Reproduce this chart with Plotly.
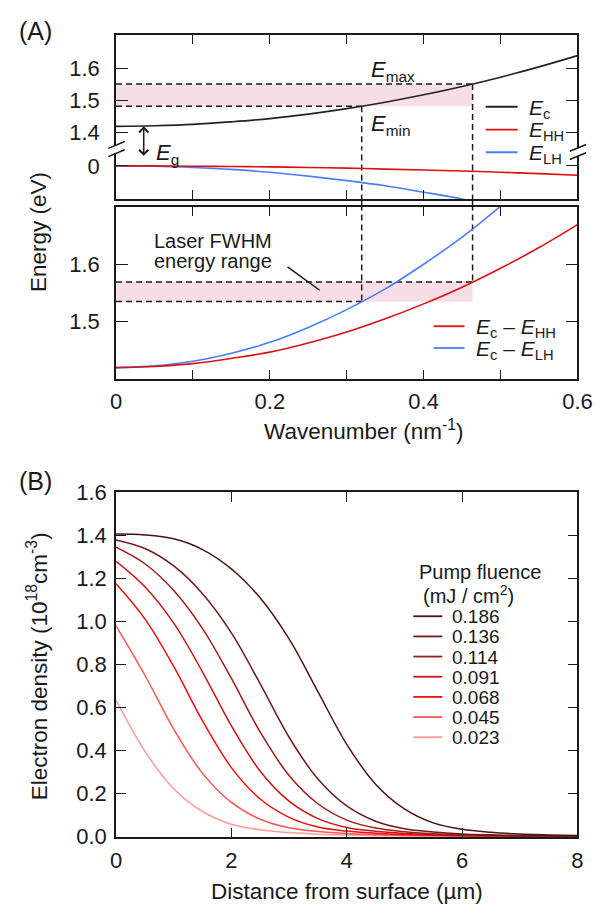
import numpy as np
import plotly.graph_objects as go

# ---------------- (A) band dispersion ----------------
k = [0.0, 0.05, 0.10, 0.15, 0.20, 0.25, 0.30, 0.35, 0.40, 0.45, 0.50, 0.55, 0.60]
E_c = [1.420, 1.422, 1.426, 1.434, 1.444, 1.458, 1.475, 1.495, 1.518, 1.544, 1.573, 1.605, 1.640]
E_hh = [0.000, 0.000, -0.001, -0.002, -0.003, -0.005, -0.007, -0.010, -0.013, -0.016, -0.020, -0.024, -0.029]
E_lh = [0.000, -0.001, -0.005, -0.011, -0.020, -0.032, -0.046, -0.062, -0.082, -0.103, -0.128, -0.154, -0.184]
laser_fwhm = [1.535, 1.569]          # eV, laser FWHM energy range

k_major = [0.0, 0.2, 0.4, 0.6]
k_ticktext = ["0", "0.2", "0.4", "0.6"]

# ---------------- (B) electron density profiles ----------------
depth = [0.0, 0.5, 1.0, 1.5, 2.0, 2.5, 3.0, 3.5, 4.0, 4.5, 5.0, 5.5, 6.0, 6.5, 7.0, 7.5, 8.0]
fluence = ["0.186", "0.136", "0.114", "0.091", "0.068", "0.045", "0.023"]
n_186 = [1.405, 1.401, 1.383, 1.333, 1.243, 1.108, 0.918, 0.673, 0.428, 0.243, 0.128, 0.063, 0.033,
         0.019, 0.011, 0.007, 0.004]
n_136 = [1.378, 1.338, 1.257, 1.128, 0.946, 0.709, 0.461, 0.267, 0.142, 0.071, 0.036, 0.021, 0.012,
         0.0076, 0.0044, 0.0031, 0.0021]
n_114 = [1.344, 1.267, 1.143, 0.966, 0.734, 0.485, 0.283, 0.152, 0.076, 0.039, 0.022, 0.013, 0.008,
         0.0047, 0.0032, 0.0022, 0.0016]
n_091 = [1.278, 1.160, 0.991, 0.764, 0.514, 0.303, 0.164, 0.083, 0.042, 0.024, 0.014, 0.0084, 0.0051,
         0.0034, 0.0024, 0.0017, 0.0012]
n_068 = [1.174, 1.011, 0.790, 0.537, 0.320, 0.174, 0.089, 0.044, 0.025, 0.015, 0.0088, 0.0053, 0.0035,
         0.0025, 0.0017, 0.0012, 0.0009]
n_045 = [0.978, 0.749, 0.499, 0.293, 0.158, 0.080, 0.040, 0.023, 0.0134, 0.0082, 0.0049, 0.0033, 0.0023,
         0.0016, 0.0012, 0.0009, 0.0007]
n_023 = [0.633, 0.396, 0.222, 0.116, 0.057, 0.031, 0.018, 0.0104, 0.0065, 0.0038, 0.0028, 0.0019, 0.0014,
         0.0010, 0.0008, 0.0006, 0.0005]
profiles = [n_186, n_136, n_114, n_091, n_068, n_045, n_023]
profile_colors = ["#4a1414", "#721a1a", "#a01b1b", "#cc1414", "#f20d0d", "#ff5555", "#ff9c9c"]
density_ticks = [0.0, 0.2, 0.4, 0.6, 0.8, 1.0, 1.2, 1.4, 1.6]
depth_ticks = [0, 2, 4, 6, 8]

# ---------------- derived transition quantities ----------------
trans_hh = np.array(E_c) - np.array(E_hh)
trans_lh = np.array(E_c) - np.array(E_lh)
k_min = float(np.interp(laser_fwhm[0], trans_lh, k))
k_max = float(np.interp(laser_fwhm[1], trans_hh, k))
E_min = float(np.interp(k_min, k, E_c))
E_max = float(np.interp(k_max, k, E_c))

# ---------------- page geometry helpers ----------------
W, H = 605, 917
def px(x):
    return x / W
def py(y):
    return 1 - y / H

FONT = "Liberation Sans, Arial, Helvetica, sans-serif"
INK = "#1a1a1a"
C_BLACK = "#222222"
C_HH = "#dd1111"
C_LH = "#4a7dff"
PINK = "#f7dde5"
DASH = "6px,4px"

fig = go.Figure()

# dashed guide lines (drawn first so curves sit on top)
guide = dict(color=INK, width=1.5, dash=DASH)
fig.add_trace(go.Scatter(x=[0, k_max], y=[E_max, E_max], mode="lines", line=guide, xaxis="x", yaxis="y"))
fig.add_trace(go.Scatter(x=[0, k_min], y=[E_min, E_min], mode="lines", line=guide, xaxis="x", yaxis="y"))
fig.add_trace(go.Scatter(x=[k_min, k_min], y=[E_min, 1.0], mode="lines", line=guide, xaxis="x", yaxis="y"))
fig.add_trace(go.Scatter(x=[k_max, k_max], y=[E_max, 1.0], mode="lines", line=guide, xaxis="x", yaxis="y"))
for kk in (k_min, k_max):
    fig.add_trace(go.Scatter(x=[kk, kk], y=[1, -1], mode="lines", line=guide, xaxis="x2", yaxis="y2"))
fig.add_trace(go.Scatter(x=[0, k_max], y=[laser_fwhm[1]] * 2, mode="lines", line=guide, xaxis="x3", yaxis="y3"))
fig.add_trace(go.Scatter(x=[0, k_min], y=[laser_fwhm[0]] * 2, mode="lines", line=guide, xaxis="x3", yaxis="y3"))
fig.add_trace(go.Scatter(x=[k_min, k_min], y=[2.0, laser_fwhm[0]], mode="lines", line=guide, xaxis="x3", yaxis="y3"))
fig.add_trace(go.Scatter(x=[k_max, k_max], y=[2.0, laser_fwhm[1]], mode="lines", line=guide, xaxis="x3", yaxis="y3"))

# band curves
fig.add_trace(go.Scatter(x=k, y=E_c, mode="lines", line=dict(color=C_BLACK, width=1.6, shape="spline"),
                         xaxis="x", yaxis="y"))
fig.add_trace(go.Scatter(x=k, y=E_lh, mode="lines", line=dict(color=C_LH, width=1.6, shape="spline"),
                         xaxis="x2", yaxis="y2"))
fig.add_trace(go.Scatter(x=k, y=E_hh, mode="lines", line=dict(color=C_HH, width=1.6, shape="spline"),
                         xaxis="x2", yaxis="y2"))
fig.add_trace(go.Scatter(x=k, y=trans_lh, mode="lines", line=dict(color=C_LH, width=1.6, shape="spline"),
                         xaxis="x3", yaxis="y3"))
fig.add_trace(go.Scatter(x=k, y=trans_hh, mode="lines", line=dict(color=C_HH, width=1.6, shape="spline"),
                         xaxis="x3", yaxis="y3"))

# density profiles, lowest fluence first
for prof, col in reversed(list(zip(profiles, profile_colors))):
    fig.add_trace(go.Scatter(x=depth, y=prof, mode="lines",
                             line=dict(color=col, width=1.5, shape="spline"),
                             xaxis="x4", yaxis="y4"))

# ---------------- axes ----------------
tickfont = dict(family=FONT, size=22, color=INK)
base = dict(showline=True, linecolor=INK, linewidth=1.6, ticks="inside", tickcolor=INK,
            tickwidth=1.4, showgrid=False, zeroline=False, tickfont=tickfont)
kminor = dict(dtick=0.1, tick0=0, ticks="inside", ticklen=9, tickcolor=INK, tickwidth=1.4, showgrid=False)
xdom = [px(114), px(592)]

layout_axes = dict(
    xaxis=dict(base, domain=xdom, anchor="y", range=[0, 0.6], side="top", tickvals=k_major,
               showticklabels=False, ticklen=9, mirror=False, minor=kminor),
    xaxis2=dict(base, domain=xdom, anchor="y2", range=[0, 0.6], side="bottom", tickvals=k_major,
                showticklabels=False, ticklen=9, mirror=False, minor=kminor),
    xaxis3=dict(base, domain=xdom, anchor="y3", range=[0, 0.6], tickvals=k_major, ticktext=k_ticktext,
                ticklen=9, mirror="ticks", ticklabelstandoff=2, minor=kminor),
    xaxis4=dict(base, domain=xdom, anchor="y4", range=[0, 8], tickvals=depth_ticks,
                ticklen=10, mirror="ticks", ticklabelstandoff=2),
    yaxis=dict(base, domain=[py(141), py(24)], anchor="x", range=[1.3485, 1.703],
               tickvals=[1.4, 1.5, 1.6], ticktext=["1.4", "1.5", "1.6"], ticklen=12, mirror="ticks",
               ticklabelstandoff=10),
    yaxis2=dict(base, domain=[py(192), py(141)], anchor="x2", range=[-0.103, 0.0515],
                tickvals=[0], ticktext=["0"], ticklen=12, mirror="ticks", ticklabelstandoff=10),
    yaxis3=dict(base, domain=[py(377), py(200)], anchor="x3", range=[1.40, 1.70],
                tickvals=[1.5, 1.6], ticktext=["1.5", "1.6"], ticklen=12, mirror="ticks",
                ticklabelstandoff=10),
    yaxis4=dict(base, domain=[py(847.5), py(493)], anchor="x4", range=[-0.004, 1.6],
                tickvals=density_ticks, tickformat=".1f", ticklen=10, mirror="ticks",
                ticklabelstandoff=3),
)

shapes = [
    dict(type="rect", xref="x", yref="y", x0=0, x1=k_max, y0=E_min, y1=E_max,
         fillcolor=PINK, line=dict(width=0), layer="below"),
    dict(type="rect", xref="x3", yref="y3", x0=0, x1=k_max, y0=laser_fwhm[0], y1=laser_fwhm[1],
         fillcolor=PINK, line=dict(width=0), layer="below"),
    # pointer from the laser label to the band
    dict(type="line", xref="x3", yref="y3", x0=0.223, y0=1.5954, x1=0.2648, y1=1.5547,
         line=dict(color=INK, width=1.5)),
]
# dashed verticals across the gap between the two (A) frames
for kk in (k_min, k_max):
    shapes.append(dict(type="line", xref="x3", yref="paper", x0=kk, x1=kk, y0=py(200), y1=py(192),
                       line=dict(color=INK, width=1.5, dash=DASH)))
# axis break marks on the upper (A) frame
for xa, dy in ((114, 0), (592, 3)):
    shapes.append(dict(type="line", xref="paper", yref="paper", x0=px(xa), x1=px(xa),
                       y0=py(137 + dy), y1=py(145 + dy), line=dict(color="white", width=4)))
    for off in (0, 8.5):
        shapes.append(dict(type="line", xref="paper", yref="paper",
                           x0=px(xa - 8), y0=py(140 + dy + off), x1=px(xa + 9), y1=py(133 + dy + off),
                           line=dict(color=INK, width=1.5)))

annotations = []
def text(x, y, s, size=21, xanchor="center", yanchor="middle", angle=0):
    annotations.append(dict(xref="paper", yref="paper", x=px(x), y=py(y), text=s, showarrow=False,
                            xanchor=xanchor, yanchor=yanchor, textangle=angle,
                            font=dict(family=FONT, size=size, color=INK)))

def legend_row(x0, x1, y, color, label, tx, size=20, dy=2):
    shapes.append(dict(type="line", xref="paper", yref="paper", x0=px(x0), x1=px(x1), y0=py(y), y1=py(y),
                       line=dict(color=color, width=1.8)))
    text(tx, y + dy, label, size=size, xanchor="left")

text(31, 19, "(A)", size=25)
text(31, 482, "(B)", size=25)
text(33, 226, "Energy (eV)", size=22.5, angle=-90)
text(370, 429, "Wavenumber (nm<sup>-1</sup>)", size=22.5)
text(33, 672, "Electron density (10<sup>18</sup>cm<sup>-3</sup>)", size=22.5, angle=-90)
text(353, 903, "Distance from surface (µm)", size=22.5)

text(376, 61, "<i>E</i><sub>max</sub>", size=22, xanchor="left")
text(376, 116, "<i>E</i><sub>min</sub>", size=22, xanchor="left")
text(153, 146, "<i>E</i><sub>g</sub>", size=22, xanchor="left")
text(214, 235.5, "Laser FWHM", size=20)
text(214, 255.5, "energy range", size=20)

# legends
legend_row(497, 530, 97.3, C_BLACK, "<i>E</i><sub>c</sub>", 540, size=21)
legend_row(497, 530, 120.7, C_HH, "<i>E</i><sub>HH</sub>", 540, size=21)
legend_row(497, 530, 144, C_LH, "<i>E</i><sub>LH</sub>", 540, size=21)
legend_row(443, 475, 322.7, C_HH, "<i>E</i><sub>c</sub> – <i>E</i><sub>HH</sub>", 485, size=21)
legend_row(443, 475, 345, C_LH, "<i>E</i><sub>c</sub> – <i>E</i><sub>LH</sub>", 485, size=21)

text(426, 575, "Pump fluence", size=20, xanchor="left")
text(430, 598, "(mJ / cm<sup>2</sup>)", size=20, xanchor="left")
for i, (lab, col) in enumerate(zip(fluence, profile_colors)):
    legend_row(422, 452, 620.5 + i * 20.7, col, lab, 460, size=19, dy=0.5)

# band-gap arrow
annotations.append(dict(xref="x", yref="y", x=0.036, y=E_c[0], ax=0, ay=38, axref="pixel", ayref="pixel",
                        showarrow=True, arrowside="end+start", arrowhead=4, startarrowhead=4,
                        arrowsize=1.2, startarrowsize=1.2, arrowwidth=1.5, arrowcolor=INK, text=" "))

fig.update_layout(
    width=W, height=H, autosize=False, margin=dict(l=0, r=0, t=0, b=0),
    paper_bgcolor="white", plot_bgcolor="white", showlegend=False,
    font=dict(family=FONT, color=INK),
    shapes=shapes, annotations=annotations, **layout_axes,
)

fig.write_html("out.html", config={"displayModeBar": False},
               post_script="document.body.style.margin='0';")
